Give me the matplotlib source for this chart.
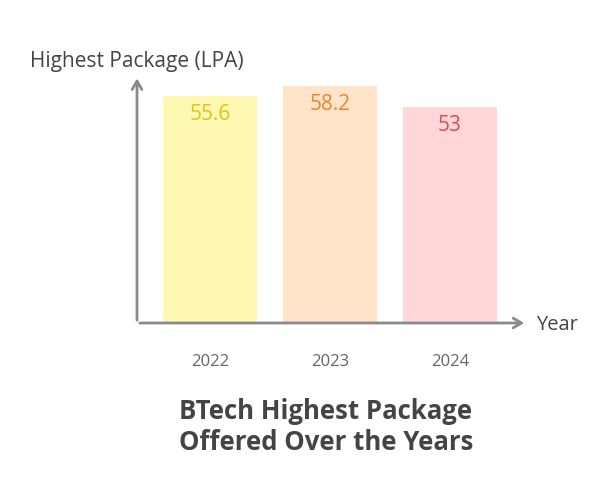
import matplotlib.pyplot as plt
import numpy as np

# Data
years = ["2022", "2023", "2024"]
packages = [55.6, 58.2, 53]
bar_colors = ["#fff8b3", "#ffe4c9", "#ffd7d9"]
label_colors = ["#e2c21a", "#e8872b", "#e5484d"]

plt.rcParams['font.family'] = ['Open Sans', 'DejaVu Sans']

fig = plt.figure(figsize=(6.06, 5.04), dpi=100)
ax = fig.add_axes([137 / 606, (504 - 323) / 504, 390 / 606, 245 / 504])

x = np.arange(len(years))
bars = ax.bar(x, packages, width=0.78, color=bar_colors)

# Value labels inside the bars, near the top
for xi, val, col in zip(x, packages, label_colors):
    ax.text(xi, val - 4.6, "{:g}".format(val), ha='center', va='center',
            fontsize=15, color=col)

ax.set_xlim(-0.608, 2.642)
ax.set_ylim(0, 60.05)

# Hide default spines and ticks, draw arrow axes instead
for s in ax.spines.values():
    s.set_visible(False)
ax.set_yticks([])
ax.set_xticks(x)
ax.set_xticklabels(years, fontsize=12, color="#666666")
ax.tick_params(axis='x', length=0, pad=22)

arrow = dict(arrowstyle='->,head_length=0.6,head_width=0.35', color='#8a8a8a', lw=2)
ax.annotate('', xy=(0, 1.01), xytext=(0, 0), xycoords='axes fraction',
            textcoords='axes fraction', arrowprops=arrow, annotation_clip=False)
ax.annotate('', xy=(1.0, 0), xytext=(0, 0), xycoords='axes fraction',
            textcoords='axes fraction', arrowprops=arrow, annotation_clip=False)

# Axis titles
fig.text(30 / 606, 1 - 62 / 504, "Highest Package (LPA)", fontsize=15,
         color="#444444", ha='left', va='center')
fig.text(536 / 606, 1 - 325 / 504, "Year", fontsize=14.5,
         color="#444444", ha='left', va='center')

# Chart title below
fig.text(326 / 606, 1 - 427 / 504, "BTech Highest Package\nOffered Over the Years",
         fontsize=18.5, fontweight='bold', color="#444444", ha='center',
         va='center', linespacing=1.2)

fig.savefig("out.png", dpi=100)
